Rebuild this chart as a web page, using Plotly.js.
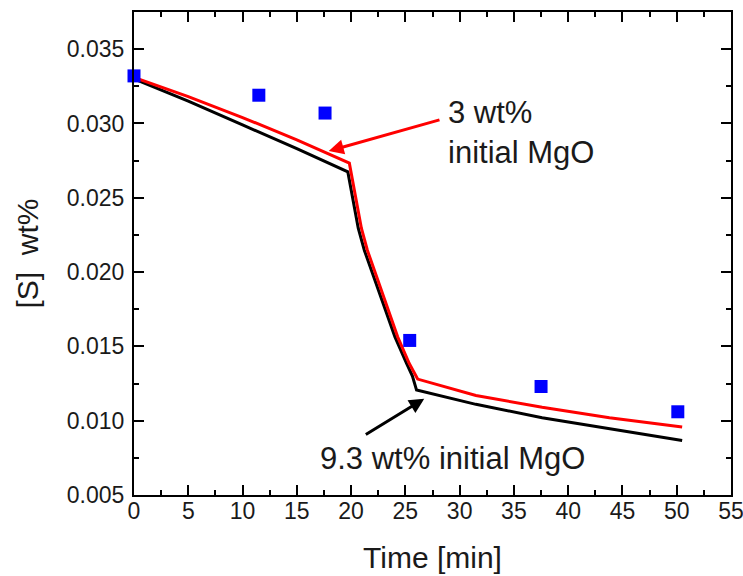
<!DOCTYPE html>
<html>
<head>
<meta charset="utf-8">
<script src="https://cdn.plot.ly/plotly-3.0.1.min.js"></script>
<style>
  html, body { margin: 0; padding: 0; background: #fff; }
  #chart { width: 743px; height: 576px; }
</style>
</head>
<body>
<div id="chart"></div>
<script>
// Measured sulfur content
const measTime = [0, 11.5, 17.6, 25.4, 37.5, 50.1];
const measS = [0.0332, 0.0319, 0.0307, 0.0154, 0.0123, 0.0106];

// Model curve, 3 wt% initial MgO
const redTime = [0, 5, 10, 15, 19.84, 20.12, 20.49, 20.95, 21.50, 22.14, 23.22, 24.29, 25.36, 26.13, 31.5, 37.6, 43.8, 50.5];
const redS = [0.0331, 0.0318, 0.0304, 0.0289, 0.02733, 0.02618, 0.02464, 0.02295, 0.02147, 0.02013, 0.01789, 0.01564, 0.01385, 0.01280, 0.0117, 0.0109, 0.0102, 0.00957];

// Model curve, 9.3 wt% initial MgO
const blackTime = [0, 5, 10, 15, 19.70, 19.90, 20.20, 20.66, 21.22, 21.87, 22.97, 24.04, 25.11, 25.65, 26.03, 31.5, 37.6, 43.8, 50.5];
const blackS = [0.0330, 0.0315, 0.0299, 0.0283, 0.02674, 0.02590, 0.02464, 0.02295, 0.02147, 0.02013, 0.01789, 0.01564, 0.01385, 0.01300, 0.01206, 0.0111, 0.0102, 0.00946, 0.00867];

const xTicks = [0, 5, 10, 15, 20, 25, 30, 35, 40, 45, 50, 55];
const yTicks = [0.005, 0.010, 0.015, 0.020, 0.025, 0.030, 0.035];

const FONT = 'Arial, "Liberation Sans", sans-serif';

const traces = [
  {
    x: blackTime, y: blackS, mode: 'lines', type: 'scatter',
    line: { color: '#000000', width: 3 }, hoverinfo: 'skip'
  },
  {
    x: redTime, y: redS, mode: 'lines', type: 'scatter',
    line: { color: '#ff0000', width: 3 }, hoverinfo: 'skip'
  },
  {
    x: measTime, y: measS, mode: 'markers', type: 'scatter',
    marker: { symbol: 'square', size: 13, color: '#0000ff' },
    cliponaxis: false
  }
];

const axisCommon = {
  showgrid: false, zeroline: false,
  showline: true, linecolor: '#000', linewidth: 2, mirror: 'allticks',
  ticks: 'inside', ticklen: 10, tickwidth: 2, tickcolor: '#000',
  ticklabeloverflow: 'allow',
  tickfont: { family: FONT, size: 23, color: '#1a1a1a' },
  minor: { ticks: 'inside', ticklen: 5, tickwidth: 2, tickcolor: '#000' }
};

const layout = {
  width: 743, height: 576,
  margin: { l: 134, r: 12, t: 12, b: 81 },
  paper_bgcolor: '#fff', plot_bgcolor: '#fff',
  showlegend: false,
  xaxis: Object.assign({}, axisCommon, {
    range: [0, 55], tickvals: xTicks, ticktext: xTicks.map(String),
    ticklabelstandoff: -6,
    minor: Object.assign({}, axisCommon.minor, { dtick: 2.5, tick0: 0 }),
    title: { text: 'Time [min]', font: { family: FONT, size: 30, color: '#1a1a1a' }, standoff: 24 }
  }),
  yaxis: Object.assign({}, axisCommon, {
    range: [0.005, 0.0375], tickvals: yTicks, ticktext: yTicks.map(v => v.toFixed(3)),
    ticklabelstandoff: 3,
    minor: Object.assign({}, axisCommon.minor, { dtick: 0.0025, tick0: 0.005 }),
    title: { text: '[S]  wt%', font: { family: FONT, size: 30, color: '#1a1a1a' }, standoff: 19 }
  }),
  annotations: [
    {
      x: 17.94, y: 0.02814, ax: 28.28, ay: 0.03027, axref: 'x', ayref: 'y',
      xref: 'x', yref: 'y', text: '', showarrow: true,
      arrowhead: 2, arrowsize: 1, arrowwidth: 3, arrowcolor: '#ff0000'
    },
    {
      x: 26.74, y: 0.01148, ax: 21.22, ay: 0.00901, axref: 'x', ayref: 'y',
      xref: 'x', yref: 'y', text: '', showarrow: true,
      arrowhead: 2, arrowsize: 1, arrowwidth: 3, arrowcolor: '#000000'
    },
    {
      x: 28.77, y: 0.02942, xref: 'x', yref: 'y', showarrow: false,
      xanchor: 'left', yanchor: 'middle', align: 'left',
      text: '3 wt%<br>initial MgO',
      font: { family: FONT, size: 31, color: '#1a1a1a' }
    },
    {
      x: 29.34, y: 0.00746, xref: 'x', yref: 'y', showarrow: false,
      xanchor: 'center', yanchor: 'middle',
      text: '9.3 wt% initial MgO',
      font: { family: FONT, size: 31, color: '#1a1a1a' }
    }
  ]
};

Plotly.newPlot('chart', traces, layout, { displayModeBar: false, staticPlot: true });
</script>
</body>
</html>
